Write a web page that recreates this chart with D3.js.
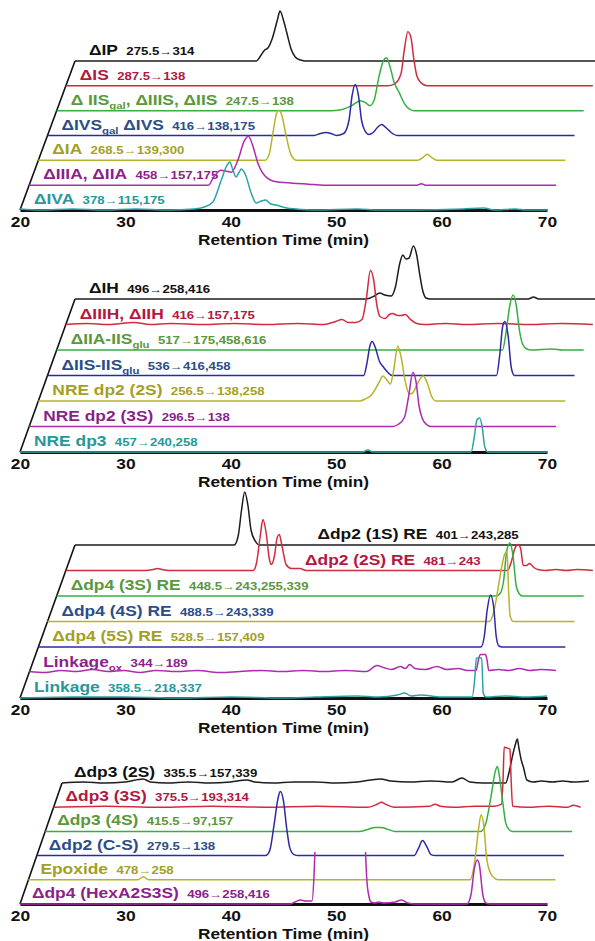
<!DOCTYPE html>
<html>
<head>
<meta charset="utf-8">
<script src="https://cdn.jsdelivr.net/npm/d3@7"></script>
<style>
  body { margin: 0; background: #fff; }
  svg { display: block; font-family: "Liberation Sans", Arial, sans-serif; }
</style>
</head>
<body>
<div id="chart"></div>
<script>
const width = 595;
const height = 941;

// Retention time ticks (min)
const timeTicks = [20, 30, 40, 50, 60, 70];

// Trace / label palettes
const lineColor = {
  black: "#1c1c1c", red: "#d22a3e", green: "#34b043", blue: "#2a2aa8",
  olive: "#b6b42c", magenta: "#ae2aae", teal: "#2ca3a3",
};
const textColor = {
  black: "#111111", red: "#b3183f", green: "#5a983c", blue: "#2b4d8a",
  olive: "#a39f26", magenta: "#8c1f8c", teal: "#25989a",
};

// ---------- Panel 1 (bottom -> top) ----------
const p1Names = ["ΔIVA", "ΔIIIA, ΔIIA", "ΔIA", "ΔIVS_{gal} ΔIVS", "Δ IIS_{gal}, ΔIIIS, ΔIIS", "ΔIS", "ΔIP"];
const p1Transitions = ["378→115,175", "458→157,175", "268.5→139,300", "416→138,175", "247.5→138", "287.5→138", "275.5→314"];
const p1Colors = ["teal", "magenta", "olive", "blue", "green", "red", "black"];
const p1LineColors = ["teal", "magenta", "olive", "blue", "green", "red", "black"];
// [retention time, intensity]
const ivaTrace = [[20,1],[22,0],[25,1],[28,0],[31,1],[34,0],[36.5,1],[37.5,3],[38.3,8],[39.1,30],[39.6,44],[39.9,48],[40.2,40],[40.5,33],[40.8,38],[41.0,41],[41.4,35],[41.9,18],[42.4,7],[42.9,9],[43.3,10],[43.8,6],[44.3,5],[45.3,2],[46.2,1],[48,0],[52,1],[54,0],[57,0],[62,1],[64,2],[65,0],[67,1],[68,0],[70,0]];
const iiiaTrace = [[20,0],[37.0,0],[37.5,8],[38.2,15],[38.7,14],[39.2,13],[39.8,25],[40.4,44],[40.8,49],[41.2,40],[41.7,22],[42.1,13],[42.6,7],[43.2,4],[45,2],[46.5,1],[48,0],[56.8,0],[57.2,1.5],[57.6,0],[70,0]];
const iaTrace = [[20,0],[41.5,0],[41.9,6],[42.3,30],[42.6,47],[42.8,50],[43.1,45],[43.5,25],[44.0,5],[44.5,0],[56.0,0],[56.5,3],[56.9,6],[57.3,3],[57.8,0],[70,0]];
const ivsTrace = [[20,0],[45.3,0],[45.9,2],[46.4,3],[46.9,2],[47.4,0],[48.1,2],[48.6,15],[48.9,40],[49.2,51],[49.5,40],[49.8,15],[50.1,5],[50.5,1],[50.9,3],[51.3,8],[51.7,11],[52.1,8],[52.6,3],[53.2,0],[70,0]];
const iisTrace = [[20,0],[46.0,0],[47.0,1],[48.0,5],[48.8,10],[49.3,8],[49.7,5],[50.1,10],[50.6,35],[51.0,50],[51.3,53],[51.6,45],[52.0,29],[52.5,18],[53.0,7],[53.4,2],[53.9,0],[70,0]];
const isTrace = [[20,0],[50.5,0],[51.2,2],[51.8,12],[52.1,35],[52.45,54],[52.75,48],[53.0,28],[53.3,10],[53.7,3],[54.3,0],[70,0]];
const ipTrace = [[20,0],[37.2,0],[37.6,5],[38.0,11],[38.3,13],[38.7,22],[39.2,41],[39.45,50],[39.8,40],[40.1,28],[40.5,12],[40.9,4],[41.4,1],[41.9,0],[70,0]];

// ---------- Panel 2 ----------
const p2Names = ["NRE dp3", "NRE dp2 (3S)", "NRE dp2 (2S)", "ΔIIS-IIS_{glu}", "ΔIIA-IIS_{glu}", "ΔIIIH, ΔIIH", "ΔIH"];
const p2Transitions = ["457→240,258", "296.5→138", "256.5→138,258", "536→416,458", "517→175,458,616", "416→157,175", "496→258,416"];
const p2Colors = ["teal", "magenta", "olive", "blue", "green", "red", "black"];
const p2LineColors = ["teal", "magenta", "olive", "blue", "green", "red", "black"];
const nreDp3Trace = [[20,0],[52.5,0],[53.0,2],[53.5,0],[62.8,0],[63.1,15],[63.35,32],[63.6,34],[63.85,25],[64.1,5],[64.4,0],[70,0]];
const nreDp2S3Trace = [[20,0],[54.5,0],[55.0,2],[55.6,9],[56.0,30],[56.4,54],[56.7,45],[57.0,20],[57.3,8],[57.7,2],[58.1,0],[70,0]];
const nreDp2S2Trace = [[20,0],[50.5,0],[51.0,2],[51.6,6],[52.3,18],[52.7,25],[53.0,22],[53.4,17],[53.7,30],[54.1,55],[54.4,45],[54.8,20],[55.2,7],[55.5,8],[56.0,18],[56.5,25],[56.9,18],[57.3,5],[57.7,0],[70,0]];
const iisIisGluTrace = [[20,0],[50.0,0],[50.3,12],[50.6,30],[50.8,34],[51.1,28],[51.5,14],[51.9,8],[52.3,3],[52.7,0],[62.6,0],[62.9,20],[63.2,50],[63.4,54],[63.7,40],[64.0,8],[64.3,0],[70,0]];
const iiaIisGluTrace = [[20,0],[62.3,0],[62.6,15],[63.0,45],[63.3,55],[63.6,45],[63.9,20],[64.2,6],[64.6,1],[65,0],[67,1],[68,0],[70,0]];
const iiihTrace = [[20,0],[22,1],[24,0],[26.5,2],[28,0],[30,1],[33,0],[36,1],[39,0],[42,1],[44.5,0],[45.6,3],[46.2,5],[46.8,2],[47.5,2],[48.1,5],[48.5,25],[48.9,54],[49.2,45],[49.5,20],[49.8,8],[50.3,6],[50.7,10],[51.0,11],[51.5,9],[51.8,9],[52.2,10],[52.7,5],[53.3,1],[54,0],[56,1],[58,0],[61,1],[64,0],[67,1],[70,0]];
const ihTrace = [[20,0],[47.6,0],[48.4,3],[48.9,6],[49.4,4],[50.0,3],[50.4,12],[50.8,35],[51.1,44],[51.4,40],[51.7,41],[52.1,53],[52.4,45],[52.7,25],[53.0,8],[53.3,1],[53.7,0],[63.0,0],[63.5,2],[64.0,0],[70,0]];

// ---------- Panel 3 ----------
const p3Names = ["Linkage", "Linkage_{ox}", "Δdp4 (5S) RE", "Δdp4 (4S) RE", "Δdp4 (3S) RE", "Δdp2 (2S) RE", "Δdp2 (1S) RE"];
const p3Transitions = ["358.5→218,337", "344→189", "528.5→157,409", "488.5→243,339", "448.5→243,255,339", "481→243", "401→243,285"];
const p3Colors = ["teal", "magenta", "olive", "blue", "green", "red", "black"];
const p3LineColors = ["teal", "magenta", "blue", "olive", "green", "red", "black"];
const linkageTrace = [[20,0],[25,1],[30,1],[35,0],[40,1],[45,0],[48,1],[52,2],[54,1],[55.8,3],[56.5,5],[57.1,2],[58,3],[60,1],[62.9,1],[63.15,20],[63.3,40],[63.8,40],[63.95,5],[64.2,1],[66,2],[68,1],[70,2]];
const linkageOxTrace = [[20,1],[21.5,0],[23,2],[24.5,1],[26,3],[27.5,1],[29,2],[30.5,0],[32,2],[34,1],[36,2],[38,0],[40,1],[42,2],[44,1],[46,2],[48,1],[50,2],[52,1],[53.0,7],[53.6,5],[54.4,3],[55.2,6],[55.7,4],[56.1,8],[56.6,4],[57.6,3],[58.7,6],[59.6,3],[60.7,4],[61.6,2],[62.4,2],[62.65,14],[62.8,18],[63.3,18],[63.45,12],[63.6,2],[64.5,3],[65.5,2],[66.5,4],[67.5,2],[68.5,3],[70,2]];
const dp4S5Trace = [[20,0],[62.0,0],[62.3,10],[62.6,38],[62.9,52],[63.2,40],[63.45,10],[63.7,1],[64.0,0],[70,0]];
const dp4S4Trace = [[20,0],[61.9,0],[62.3,8],[62.7,30],[63.1,55],[63.4,68],[63.6,70],[63.75,30],[63.9,5],[64.2,0],[70,0]];
const dp4S3Trace = [[20,0],[61.7,0],[62.1,3],[62.4,15],[62.7,45],[63.0,53],[63.3,40],[63.6,10],[63.9,2],[64.2,0],[70,0]];
const dp2S2Trace = [[20,0],[27.5,0],[28.3,1],[28.7,2],[29.1,1],[29.8,0],[37.8,0],[38.1,8],[38.45,35],[38.7,51],[39.0,38],[39.3,12],[39.5,6],[39.8,15],[40.05,33],[40.25,36],[40.5,25],[40.9,6],[41.4,2],[42.2,2],[42.8,0],[61.9,0],[62.3,10],[62.6,22],[62.9,26],[63.15,22],[63.4,5],[63.7,5],[64.0,7],[64.4,3],[64.8,1],[65.5,0],[66.5,1],[67.5,0],[68.5,1],[70,0]];
const dp2S1Trace = [[20,0],[35.1,0],[35.5,10],[35.8,35],[36.1,53],[36.4,40],[36.7,15],[37.1,4],[37.5,0],[70,0]];

// ---------- Panel 4 ----------
const p4Names = ["Δdp4 (HexA2S3S)", "Epoxide", "Δdp2 (C-S)", "Δdp3 (4S)", "Δdp3 (3S)", "Δdp3 (2S)"];
const p4Transitions = ["496→258,416", "478→258", "279.5→138", "415.5→97,157", "375.5→193,314", "335.5→157,339"];
const p4Colors = ["magenta", "olive", "blue", "green", "red", "black"];
const p4LineColors = ["magenta", "olive", "blue", "green", "red", "black"];
// null = off-scale, not drawn
const hexA2S3STrace = [[20,0],[45.6,0],[46.1,2],[46.6,4],[47.1,3],[47.7,3],[47.9,30],[47.98,52],[48.05,null],[52.7,null],[52.78,52],[52.9,25],[53.1,8],[53.3,2],[53.7,1],[54.0,2],[54.5,1],[55.6,2],[56.2,4],[56.8,1],[57.5,0],[62.4,0],[62.8,10],[63.1,35],[63.4,44],[63.6,38],[63.9,10],[64.2,1],[64.6,0],[70,0]];
const epoxideTrace = [[20,0],[30.4,0],[30.9,3],[31.4,0],[61.9,0],[62.3,15],[62.7,50],[62.95,65],[63.2,55],[63.5,20],[64.0,4],[64.6,0],[70,0]];
const dp2CSTrace = [[20,0],[41.7,0],[42.1,5],[42.5,30],[42.9,58],[43.1,64],[43.4,55],[43.7,28],[44.0,8],[44.4,1],[44.8,0],[55.8,0],[56.2,7],[56.6,15],[57.0,9],[57.4,1],[57.8,0],[70,0]];
const dp3S4Trace = [[20,0],[49.8,0],[50.6,2],[51.3,4],[51.9,4],[52.5,2],[53.2,0],[61.3,0],[61.8,8],[62.3,35],[62.7,60],[62.9,65],[63.1,55],[63.4,30],[63.7,8],[64.0,2],[64.3,0],[70,0]];
const dp3S3Trace = [[20,0],[25,1],[30,0],[35,1],[40,0],[45,1],[49.8,0],[50.7,3],[51.1,5],[51.5,3],[52.3,0],[55.7,1],[56.2,3],[56.7,1],[58,0],[60,1],[61.8,1],[62.5,3],[62.65,30],[62.75,60],[63.1,59],[63.3,58],[63.4,30],[63.55,1],[65,0],[67,1],[68.8,0],[69.3,2],[70,0]];
const dp3S2Trace = [[20,0],[22,1],[24,0],[26,1],[27.7,4],[28.4,1],[30,0],[32,1],[34,0],[36,1],[37.55,3],[38.3,1],[40,0],[42,1],[44,1],[46,0],[48,1],[50.2,4],[51.2,2],[53,1],[55,2],[57,1],[57.95,5],[58.7,1],[60,0],[62.1,0],[62.4,10],[62.7,25],[63.0,38],[63.2,44],[63.35,35],[63.55,24],[63.8,15],[64.1,3],[64.7,1],[65.5,2],[66.5,1],[67.5,2],[68.5,1],[70,2]];

// Layout of the four stacked panels
const panels = [
  { names: p1Names, transitions: p1Transitions, colors: p1Colors, lineColors: p1LineColors,
    traces: [ivaTrace, iiiaTrace, iaTrace, ivsTrace, iisTrace, isTrace, ipTrace],
    axisY: 210, topY: 61, topX: 75, labelPad: 14 },
  { names: p2Names, transitions: p2Transitions, colors: p2Colors, lineColors: p2LineColors,
    traces: [nreDp3Trace, nreDp2S3Trace, nreDp2S2Trace, iisIisGluTrace, iiaIisGluTrace, iiihTrace, ihTrace],
    axisY: 452, topY: 299, topX: 75, labelPad: 14 },
  { names: p3Names, transitions: p3Transitions, colors: p3Colors, lineColors: p3LineColors,
    traces: [linkageTrace, linkageOxTrace, dp4S5Trace, dp4S4Trace, dp4S3Trace, dp2S2Trace, dp2S1Trace],
    axisY: 698, topY: 545, topX: 75, labelPad: 14, labelTimes: { 5: 42.7, 6: 43 } },
  { names: p4Names, transitions: p4Transitions, colors: p4Colors, lineColors: p4LineColors,
    traces: [hexA2S3STrace, epoxideTrace, dp2CSTrace, dp3S4Trace, dp3S3Trace, dp3S2Trace],
    axisY: 904, topY: 783, topX: 62, labelPad: 12 },
];

const xScale = d3.scaleLinear().domain([20, 70]).range([20, 547]);
const yScale = d3.scaleLinear().domain([0, 60]).range([0, 60]);

const svg = d3
  .select("#chart")
  .append("svg")
  .attr("width", width)
  .attr("height", height);

// split "ΔIVS_{gal} ΔIVS" into normal / subscript parts
function nameParts(name) {
  return name
    .split(/(_\{[^}]*\})/)
    .filter((s) => s.length)
    .map((s) => (s.startsWith("_{") ? { text: s.slice(2, -1), sub: true } : { text: s, sub: false }));
}

panels.forEach((p) => {
  const n = p.traces.length;
  const dy = (p.axisY - p.topY) / (n - 1);
  const dx = (p.topX - xScale(20)) / (n - 1);
  const g = svg.append("g");

  // x axis
  const axis = g
    .append("g")
    .attr("transform", `translate(0,${p.axisY})`)
    .call(
      d3.axisBottom(xScale)
        .tickValues(timeTicks)
        .tickSize(0)
        .tickSizeOuter(0)
        .tickPadding(6)
        .tickFormat(d3.format("d"))
    );
  axis.select(".domain").attr("stroke", "#111").attr("stroke-width", 3);
  axis
    .selectAll(".tick text")
    .attr("font-family", '"Liberation Sans", Arial, sans-serif')
    .attr("font-size", 15.5)
    .attr("font-weight", "bold")
    .attr("fill", "#111")
    .attr("transform", "scale(1.12,1)");

  g.append("text")
    .attr("transform", `translate(${(xScale(20) + xScale(70)) / 2},${p.axisY + 34.5}) scale(1.15,1)`)
    .attr("text-anchor", "middle")
    .attr("font-size", 15)
    .attr("font-weight", "bold")
    .attr("fill", "#111")
    .text("Retention Time (min)");

  // oblique offset line
  g.append("line")
    .attr("x1", xScale(20))
    .attr("y1", p.axisY)
    .attr("x2", xScale(20) + (n - 1) * dx)
    .attr("y2", p.topY)
    .attr("stroke", "#111")
    .attr("stroke-width", 1.6);

  // labels
  p.names.forEach((name, k) => {
    const base = p.axisY - k * dy;
    const lt = p.labelTimes && p.labelTimes[k];
    const lx = lt ? xScale(lt) + k * dx : xScale(20) + k * dx + p.labelPad;
    const label = g
      .append("text")
      .attr("transform", `translate(${lx},${base - 6}) scale(1.2,1)`)
      .attr("fill", textColor[p.colors[k]])
      .attr("font-weight", "bold");
    let shift = 0;
    nameParts(name).forEach((part) => {
      const target = part.sub ? 4 : 0;
      label
        .append("tspan")
        .attr("font-size", part.sub ? 9.5 : 14.5)
        .attr("dy", target - shift)
        .text(part.text);
      shift = target;
    });
    label
      .append("tspan")
      .attr("dx", 7)
      .attr("dy", -shift)
      .attr("font-size", 11)
      .text(p.transitions[k]);
  });

  // traces, back (top) to front (bottom)
  for (let k = n - 1; k >= 0; k--) {
    const base = p.axisY - k * dy;
    const line = d3
      .line()
      .defined((d) => d[1] !== null)
      .x((d) => xScale(d[0]) + k * dx)
      .y((d) => base - yScale(d[1]))
      .curve(d3.curveMonotoneX);
    g.append("path")
      .datum(p.traces[k])
      .attr("d", line)
      .attr("fill", "none")
      .attr("stroke", lineColor[p.lineColors[k]])
      .attr("stroke-width", 1.5)
      .attr("stroke-linejoin", "round");
  }
});
</script>
</body>
</html>
